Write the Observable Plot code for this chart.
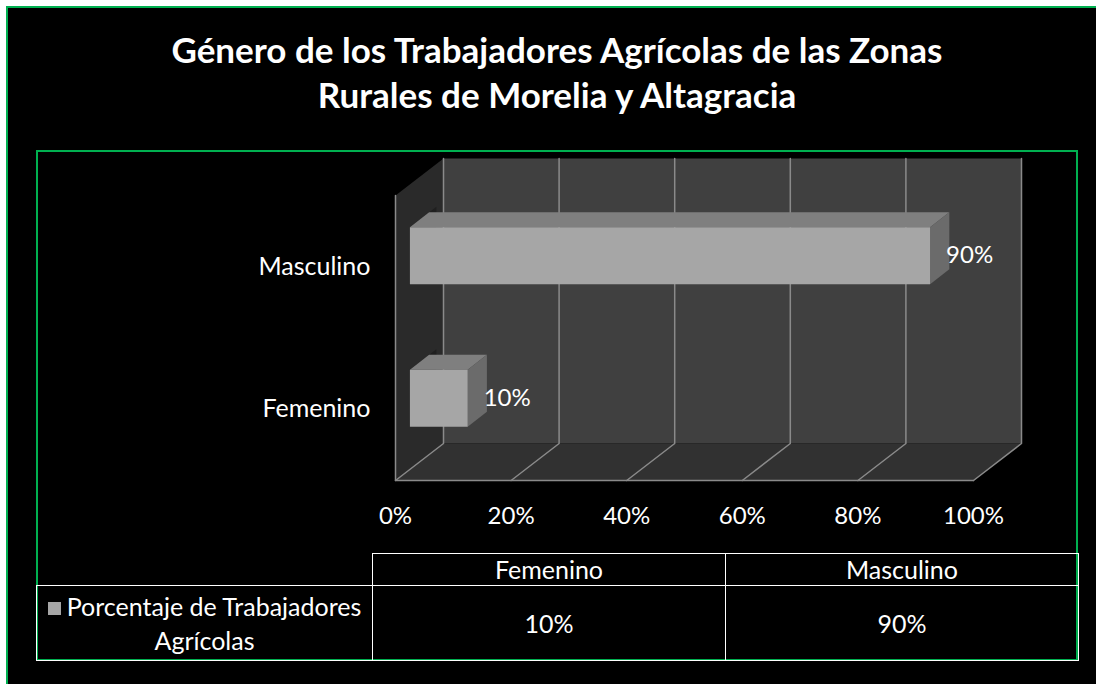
<!DOCTYPE html>
<html>
<head>
<meta charset="utf-8">
<script src="https://cdn.jsdelivr.net/npm/d3@7"></script>
<script src="https://cdn.jsdelivr.net/npm/@observablehq/plot@0.6"></script>
<style>
  html, body { margin: 0; padding: 0; background: #fff; width: 1096px; height: 684px; overflow: hidden; font-family: Lato, "Open Sans", sans-serif; }
  #panel { position: absolute; left: 6px; top: 6px; width: 1100px; height: 690px; background: #000; border-top: 2px solid #00b050; border-left: 2px solid #00b050; }
  #title { position: absolute; left: 107px; width: 900px; top: 27px; text-align: center; color: #fff; font-weight: bold; font-size: 35px; line-height: 45px; }
  #inner { position: absolute; left: 36px; top: 150px; width: 1042px; height: 511px; box-sizing: border-box; border: 2px solid #00b050; }
  #chart { position: absolute; left: 0; top: 150px; }
  #chart svg { overflow: visible; }
  #tbl { position: absolute; left: 36px; top: 553px; width: 1042px; border-collapse: collapse; table-layout: fixed; color: #fff; font-size: 25px; }
  #tbl td { border: 1px solid #fff; text-align: center; padding: 0 2px; }
  #tbl td.empty { border-top: none; border-left: none; }
  #tbl tr.head td { height: 31px; line-height: 31px; }
  #tbl tr.row td { height: 74px; line-height: 34px; }
  .sw { display: inline-block; width: 13px; height: 13px; background: #a6a6a6; margin-right: 6px; vertical-align: 1px; }
</style>
</head>
<body>
<div id="panel"></div>
<div id="title"></div>
<div id="inner"></div>
<div id="chart"></div>
<table id="tbl"></table>
<script>
// ---- data ----
const titleLines = ["Género de los Trabajadores Agrícolas de las Zonas", "Rurales de Morelia y Altagracia"];
const categories = ["Femenino", "Masculino"];
const values = [0.10, 0.90];
const valueLabels = ["10%", "90%"];
const xTicks = [0, 0.2, 0.4, 0.6, 0.8, 1];
const seriesName = "Porcentaje de Trabajadores Agrícolas";

// ---- layout / style ----
const W = 1096, H = 400, mL = 395, mR = 123, mT = 45, mB = 70;
const plotW = W - mL - mR, plotH = H - mT - mB;
const yMax = categories.length;
const depthX = 48, depthY = 37;             // pixel offset of the back plane
const DX = depthX / plotW, DY = depthY / plotH * yMax;
const P = (x, y, d) => ({x: x + d * DX, y: y + d * DY});
const barD1 = 0.3, barD2 = 0.7, barPad = 0.3;

document.getElementById("title").innerHTML = titleLines.join("<br>");

const poly = (pts, fill, extra = {}) => Plot.line(pts.map(([x, y, d]) => P(x, y, d)),
  {x: "x", y: "y", fill, stroke: "none", curve: "linear-closed", ...extra});

// walls
const backWall = poly([[0, 0, 1], [1, 0, 1], [1, yMax, 1], [0, yMax, 1]], "#404040");
const sideWall = poly([[0, 0, 0], [0, 0, 1], [0, yMax, 1], [0, yMax, 0]], "#2a2a2a");
const floor = poly([[0, 0, 0], [1, 0, 0], [1, 0, 1], [0, 0, 1]], "#313131");

// soft bar shadows on the side wall
const shadows = categories.map((c, i) =>
  poly([[0, i + barPad, barD1], [0, i + barPad, barD2 + 0.15], [0, i + 1 - barPad, barD2 + 0.15], [0, i + 1 - barPad, barD1]],
       "#151515", {fillOpacity: 0.55}));

// gridlines
const gridData = xTicks.flatMap(t => [
  {t, ...P(t, 0, 0)}, {t, ...P(t, 0, 1)}, {t, ...P(t, yMax, 1)}
]);
const edgeData = [P(0, yMax, 0), P(0, 0, 0), P(1, 0, 0)];

// bars
const faces = [];
categories.forEach((c, i) => {
  const v = values[i], y1 = i + barPad, y2 = i + 1 - barPad;
  const add = (face, pts) => pts.forEach(([x, y, d]) => faces.push({key: c + face, face, ...P(x, y, d)}));
  add("top", [[0, y2, barD1], [v, y2, barD1], [v, y2, barD2], [0, y2, barD2]]);
  add("side", [[v, y1, barD1], [v, y2, barD1], [v, y2, barD2], [v, y1, barD2]]);
  add("front", [[0, y1, barD1], [v, y1, barD1], [v, y2, barD1], [0, y2, barD1]]);
});
const labelData = categories.map((c, i) => ({label: valueLabels[i], ...P(values[i], i + 0.5, barD1)}));

const chart = Plot.plot({
  width: W, height: H,
  marginLeft: mL, marginRight: mR, marginTop: mT, marginBottom: mB,
  x: {domain: [0, 1], label: null},
  y: {domain: [0, yMax], label: null},
  color: {domain: ["front", "top", "side"], range: ["#a6a6a6", "#7f7f7f", "#6b6b6b"]},
  style: {background: "transparent", color: "#fff", fontFamily: "Lato, sans-serif", fontSize: "24px", overflow: "visible"},
  marks: [
    backWall, sideWall, ...shadows, floor,
    Plot.line(gridData, {x: "x", y: "y", z: "t", stroke: "#8a8a8a", strokeWidth: 1.5}),
    Plot.line(edgeData, {x: "x", y: "y", stroke: "#8a8a8a", strokeWidth: 1.5}),
    Plot.line(faces, {x: "x", y: "y", z: "key", fill: "face", stroke: "none", curve: "linear-closed"}),
    Plot.text(labelData, {x: "x", y: "y", text: "label", textAnchor: "start", dx: 16, fill: "#fff", fontSize: 24}),
    Plot.axisX(xTicks, {tickFormat: d3.format(".0%"), tickSize: 0, tickPadding: 26, fontSize: 24, label: null}),
    Plot.axisY(categories.map((c, i) => i + 0.5), {tickFormat: d => categories[Math.floor(d)], tickSize: 0, tickPadding: 25, fontSize: 25, label: null})
  ]
});
document.getElementById("chart").appendChild(chart);

// data table
const tbl = d3.select("#tbl");
tbl.append("colgroup").selectAll("col").data([336, 353, 353]).join("col").style("width", d => d + "px");
const head = tbl.append("tr").attr("class", "head");
head.append("td").attr("class", "empty");
categories.forEach(c => head.append("td").text(c));
const row = tbl.append("tr").attr("class", "row");
const first = row.append("td");
first.append("span").attr("class", "sw");
first.append("span").text(seriesName);
valueLabels.forEach(v => row.append("td").text(v));
</script>
</body>
</html>
